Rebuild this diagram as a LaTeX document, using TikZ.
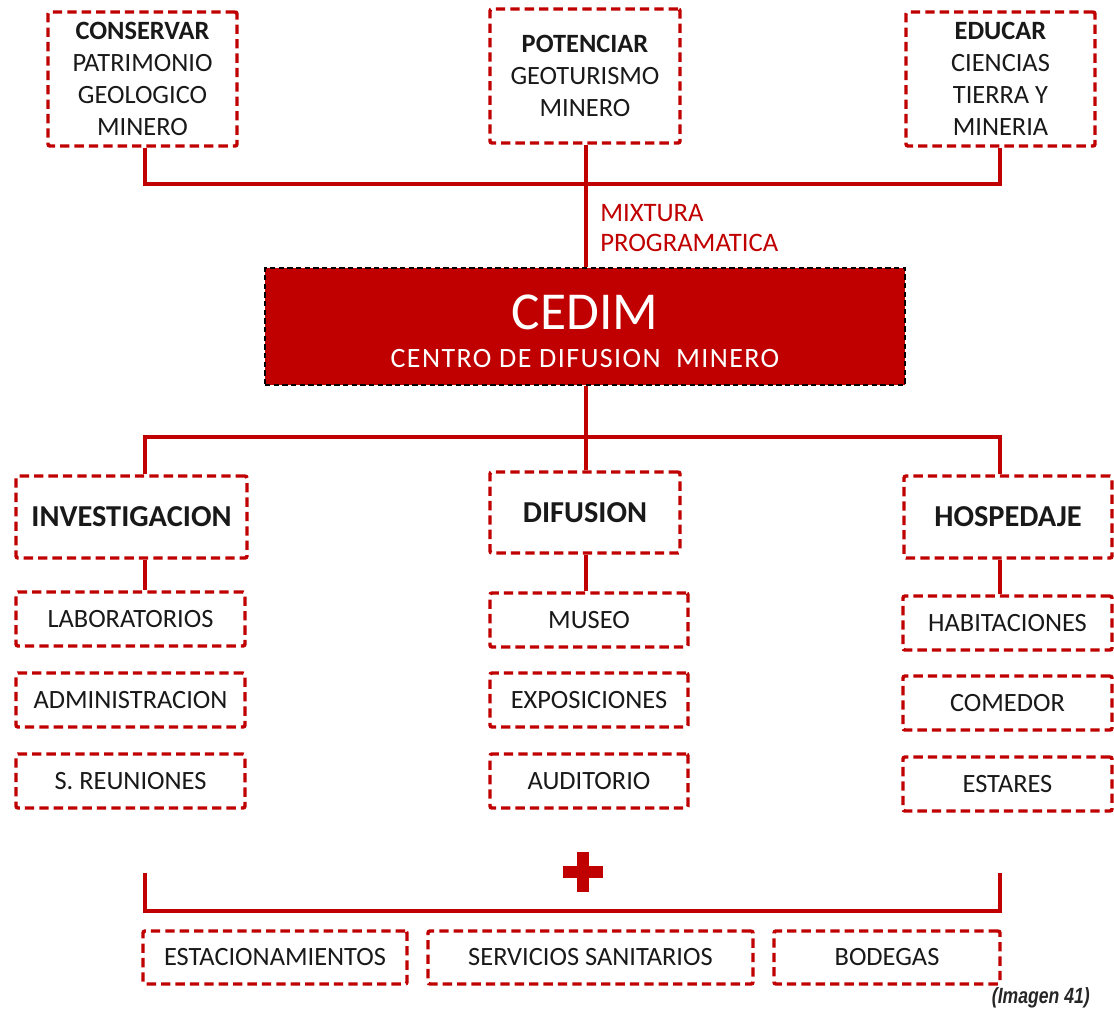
\documentclass[tikz,border=0pt]{standalone}
\usepackage{fontspec}
\setmainfont{Carlito}
\newfontfamily\captionfont{Liberation Sans}
\newfontfamily\widefont[LetterSpace=5]{Carlito}
\definecolor{cedimred}{HTML}{C00000}
\tikzset{
  box/.style={draw=cedimred, line width=2.6pt, dash pattern=on 7pt off 3.8pt,
    rounded corners=1.5pt, fill=white, align=center, inner sep=0pt,
    font=\fontsize{19.8}{24}\selectfont, text=black!90},
  headbox/.style={box, font=\fontsize{22.8}{26}\selectfont\bfseries},
  link/.style={draw=cedimred, line width=3pt},
}
\begin{document}
\begin{tikzpicture}[x=0.75pt,y=-0.75pt]
\useasboundingbox (0,0) rectangle (1114,1011);

% junction points of the trees
\coordinate (jtop) at (586,184);
\coordinate (jmid) at (586,437);
\coordinate (xl) at (145,0);
\coordinate (xr) at (1000,0);

% aims
\node[box, minimum width=189*0.75pt, minimum height=134*0.75pt] (conservar) at (142.5,79)
  {\textbf{CONSERVAR}\\PATRIMONIO\\GEOLOGICO\\MINERO};
\node[box, minimum width=190*0.75pt, minimum height=134*0.75pt] (potenciar) at (585,76)
  {\textbf{POTENCIAR}\\GEOTURISMO\\MINERO};
\node[box, minimum width=189*0.75pt, minimum height=134*0.75pt] (educar) at (1000.5,79)
  {\textbf{EDUCAR}\\CIENCIAS\\TIERRA Y\\MINERIA};

% central block
\node[draw=black, line width=1.8pt, dash pattern=on 4pt off 2.5pt, fill=cedimred,
  minimum width=640*0.75pt, minimum height=117*0.75pt, inner sep=0pt] (cedim) at (585,326.5) {};
\node[text=white, font=\fontsize{40}{40}\selectfont] (cedimt) at (585,312) {CEDIM};
\node[text=white, font=\widefont\fontsize{21}{21}\selectfont] (cedims) at (585,359) {CENTRO DE DIFUSION\ \ MINERO};

\node[text=cedimred, align=left, anchor=west, inner sep=0pt,
  font=\fontsize{20}{23}\selectfont] (mixtura) at (600,228) {MIXTURA\\PROGRAMATICA};

% areas
\node[headbox, minimum width=231*0.75pt, minimum height=82*0.75pt] (invest) at (131.5,517) {INVESTIGACION};
\node[headbox, minimum width=190*0.75pt, minimum height=81*0.75pt] (difusion) at (585,512.5) {DIFUSION};
\node[headbox, minimum width=208*0.75pt, minimum height=82*0.75pt] (hosped) at (1008,517) {HOSPEDAJE};

% programme items
\tikzset{item/.style={box, minimum height=54*0.75pt}}
\node[item, minimum width=229*0.75pt] (lab) at (130.5,619) {LABORATORIOS};
\node[item, minimum width=229*0.75pt] (adm) at (130.5,700) {ADMINISTRACION};
\node[item, minimum width=229*0.75pt] (reun) at (130.5,781) {S. REUNIONES};
\node[item, minimum width=198*0.75pt] (museo) at (589,620) {MUSEO};
\node[item, minimum width=198*0.75pt] (expo) at (589,700) {EXPOSICIONES};
\node[item, minimum width=198*0.75pt] (audit) at (589,781) {AUDITORIO};
\node[item, minimum width=209*0.75pt] (habit) at (1007.5,623) {HABITACIONES};
\node[item, minimum width=209*0.75pt] (comedor) at (1007.5,703) {COMEDOR};
\node[item, minimum width=209*0.75pt] (estares) at (1007.5,784) {ESTARES};

% shared services
\tikzset{service/.style={box, minimum height=53*0.75pt}}
\node[service, minimum width=264*0.75pt] (estac) at (275,957.5) {ESTACIONAMIENTOS};
\node[service, minimum width=325*0.75pt] (serv) at (590.5,957.5) {SERVICIOS SANITARIOS};
\node[service, minimum width=226*0.75pt] (bodegas) at (887,957.5) {BODEGAS};

% upper tree
\draw[link] (xl |- conservar.south) -- (xl |- jtop) -- (xr |- jtop) -- (xr |- educar.south);
\draw[link] (jtop |- potenciar.south) -- (jtop |- cedim.north);

% lower tree
\draw[link] (jmid |- cedim.south) -- (jmid);
\draw[link] (xl |- invest.north) -- (xl |- jmid) -- (xr |- jmid) -- (xr |- hosped.north);
\draw[link] (jmid) -- (jmid |- difusion.north);
\draw[link] (xl |- invest.south) -- (xl |- lab.north);
\draw[link] (jmid |- difusion.south) -- (jmid |- museo.north);
\draw[link] (xr |- hosped.south) -- (xr |- habit.north);

% plus sign and bracket
\fill[cedimred] (563,866) rectangle (603,878);
\fill[cedimred] (577,852) rectangle (589,892);
\coordinate (bl) at (145,873);
\coordinate (br) at (1000,873);
\draw[link] (bl) -- (bl |- 0,911) -- (br |- 0,911) -- (br);

% caption
\node[anchor=east, inner sep=0pt, text=black!85] (caption) at (1090,998)
  {\scalebox{0.8}[1]{\captionfont\bfseries\itshape\fontsize{16.5}{16}\selectfont(Imagen 41)}};
\end{tikzpicture}
\end{document}
